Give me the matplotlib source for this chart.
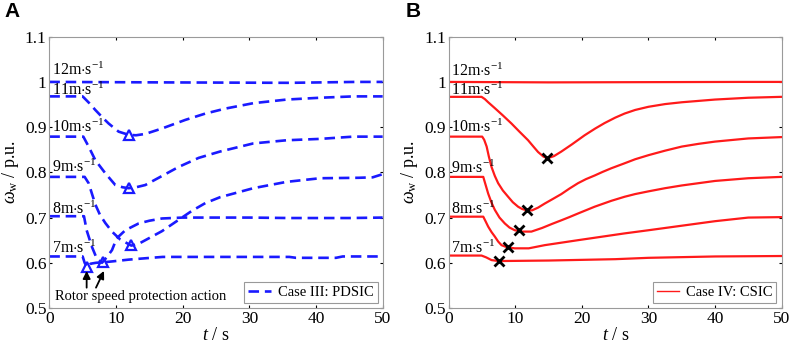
import matplotlib
matplotlib.use("Agg")
import matplotlib.pyplot as plt

plt.rcParams['font.family'] = ['Liberation Serif', 'DejaVu Serif']
plt.rcParams['mathtext.fontset'] = 'custom'
plt.rcParams['mathtext.rm'] = 'Liberation Serif'
plt.rcParams['mathtext.it'] = 'Liberation Serif:italic'

# ---------------- data: panel A (Case III: PDSIC) ----------------
a12_t = [0, 16, 36, 46, 50]
a12_y = [1.000, 0.999, 0.998, 1.000, 1.000]
a11_t = [0, 5.0, 6.0, 6.9, 8.0, 8.9, 10.4, 11.9, 13.0, 14.4, 16.9, 20.4, 23.4, 26.4, 30.6, 35.6, 40.6, 45.6, 50]
a11_y = [0.968, 0.968, 0.953, 0.938, 0.921, 0.908, 0.890, 0.883, 0.882, 0.885, 0.897, 0.916, 0.930, 0.941, 0.953, 0.961, 0.965, 0.968, 0.968]
a10_t = [0, 5.1, 5.9, 6.9, 8.4, 9.9, 11.0, 11.9, 13.0, 14.4, 16.9, 19.4, 22.4, 25.6, 30.6, 35.6, 40.6, 45.6, 50]
a10_y = [0.879, 0.879, 0.857, 0.827, 0.798, 0.772, 0.767, 0.765, 0.767, 0.772, 0.792, 0.812, 0.832, 0.846, 0.864, 0.871, 0.874, 0.879, 0.879]
a9_t = [0, 5.3, 5.9, 6.9, 7.6, 8.4, 9.4, 10.6, 12.3, 13.4, 14.4, 16.9, 19.4, 21.4, 23.4, 25.6, 30.6, 35.6, 40.6, 46.4, 48.5, 50]
a9_y = [0.790, 0.790, 0.776, 0.729, 0.706, 0.688, 0.669, 0.652, 0.638, 0.642, 0.650, 0.670, 0.695, 0.715, 0.732, 0.745, 0.765, 0.779, 0.787, 0.788, 0.789, 0.796]
a8_t = [0, 5.2, 5.6, 6.4, 7.1, 7.9, 8.6, 9.4, 10.1, 11.4, 13.4, 15.0, 16.9, 20.0, 30.0, 36.0, 45.0, 50]
a8_y = [0.703, 0.703, 0.672, 0.635, 0.610, 0.600, 0.612, 0.628, 0.654, 0.672, 0.687, 0.693, 0.698, 0.700, 0.700, 0.699, 0.699, 0.700]
a7_t = [0, 5.0, 5.3, 5.7, 6.2, 7.0, 8.0, 9.4, 11.9, 14.4, 17.0, 36.0, 37.0, 43.0, 44.0, 50]
a7_y = [0.614, 0.614, 0.600, 0.590, 0.598, 0.600, 0.601, 0.603, 0.607, 0.610, 0.613, 0.613, 0.611, 0.611, 0.614, 0.614]
a_mark_t = [11.9, 11.9, 12.3, 5.7, 8.0]
a_mark_y = [0.883, 0.765, 0.640, 0.590, 0.601]

# ---------------- data: panel B (Case IV: CSIC) ----------------
b12_t = [0, 15, 44, 50]
b12_y = [1.000, 0.999, 1.000, 1.000]
b11_t = [0, 4.9, 5.4, 5.9, 6.9, 8.1, 9.4, 10.6, 11.9, 12.7, 13.4, 14.2, 14.8, 15.8, 16.9, 18.5, 20.4, 22.0, 23.4, 25.0, 26.4, 28.0, 30, 32.5, 35, 37.5, 40, 45, 50]
b11_y = [0.967, 0.967, 0.962, 0.955, 0.942, 0.926, 0.908, 0.890, 0.871, 0.857, 0.845, 0.835, 0.831, 0.836, 0.846, 0.862, 0.882, 0.897, 0.909, 0.921, 0.930, 0.938, 0.945, 0.951, 0.955, 0.958, 0.961, 0.965, 0.967]
b10_t = [0, 5.0, 5.3, 5.67, 6.0, 6.4, 6.9, 7.4, 8.1, 8.9, 9.6, 10.4, 11.0, 11.7, 12.5, 13.4, 14.4, 15.6, 16.9, 18.1, 19.4, 20.6, 21.9, 23.1, 24.4, 26.4, 28, 30, 32.5, 35, 37.5, 40, 45, 50]
b10_y = [0.879, 0.879, 0.872, 0.857, 0.835, 0.812, 0.792, 0.776, 0.760, 0.746, 0.734, 0.724, 0.719, 0.716, 0.716, 0.722, 0.731, 0.741, 0.752, 0.764, 0.776, 0.785, 0.793, 0.801, 0.809, 0.820, 0.829, 0.838, 0.848, 0.857, 0.863, 0.868, 0.875, 0.878]
b9_t = [0, 5.16, 5.5, 5.9, 6.4, 6.9, 7.6, 8.4, 9.1, 9.9, 11.0, 12.4, 14.0, 15.5, 16.9, 18.1, 19.4, 21.9, 24.4, 26.4, 28, 30, 32.5, 35, 37.5, 40, 45, 50]
b9_y = [0.790, 0.790, 0.773, 0.753, 0.733, 0.717, 0.700, 0.687, 0.678, 0.672, 0.669, 0.669, 0.677, 0.686, 0.694, 0.701, 0.709, 0.724, 0.737, 0.746, 0.752, 0.758, 0.765, 0.771, 0.776, 0.781, 0.787, 0.790]
b8_t = [0, 5.16, 5.5, 5.9, 6.4, 6.9, 7.4, 7.9, 8.8, 9.9, 12.0, 14.4, 19.4, 26.4, 30, 35, 40, 45, 50]
b8_y = [0.702, 0.702, 0.692, 0.680, 0.668, 0.658, 0.647, 0.639, 0.634, 0.632, 0.632, 0.639, 0.650, 0.665, 0.672, 0.682, 0.692, 0.700, 0.701]
b7_t = [0, 4.9, 5.6, 6.4, 7.4, 8.5, 15, 25, 30, 40, 50]
b7_y = [0.616, 0.616, 0.612, 0.606, 0.604, 0.604, 0.605, 0.608, 0.611, 0.614, 0.615]
b_mark_t = [14.8, 11.8, 10.6, 8.9, 7.5]
b_mark_y = [0.831, 0.716, 0.672, 0.635, 0.605]

speed_labels = ['12', '11', '10', '9', '8', '7']
label_y_a = [1.015, 0.972, 0.890, 0.800, 0.709, 0.621]
label_y_b = [1.013, 0.971, 0.890, 0.798, 0.709, 0.622]

x_ticks = [0, 10, 20, 30, 40, 50]
y_ticks = [0.5, 0.6, 0.7, 0.8, 0.9, 1.0, 1.1]
y_ticklabels = ['0.5', '0.6', '0.7', '0.8', '0.9', '1', '1.1']

fig = plt.figure(figsize=(7.89, 3.43), dpi=100)
axA = fig.add_axes([0.0625, 0.102, 0.4225, 0.791])
axB = fig.add_axes([0.569, 0.102, 0.4215, 0.791])

blue = '#1a1aff'
red = '#ff1a1a'

a_curves = [(a12_t, a12_y), (a11_t, a11_y), (a10_t, a10_y), (a9_t, a9_y), (a8_t, a8_y), (a7_t, a7_y)]
for i, (t, y) in enumerate(a_curves):
    axA.plot(t, y, color=blue, lw=1.9, ls=(0, (4, 2.2)),
             label='Case III: PDSIC' if i == 0 else None)
axA.plot(a_mark_t, a_mark_y, ls='none', marker='^', ms=7, mfc='none', mec=blue, mew=1.6)

b_curves = [(b12_t, b12_y), (b11_t, b11_y), (b10_t, b10_y), (b9_t, b9_y), (b8_t, b8_y), (b7_t, b7_y)]
for i, (t, y) in enumerate(b_curves):
    axB.plot(t, y, color=red, lw=1.6, label='Case IV: CSIC' if i == 0 else None)
axB.plot(b_mark_t, b_mark_y, ls='none', marker='x', ms=7, mec='black', mew=2)

for ax, ly in ((axA, label_y_a), (axB, label_y_b)):
    for s, yv in zip(speed_labels, ly):
        ax.text(0.35, yv, s + r'm$\cdot$s$^{-1}$', fontsize=11.5, va='baseline', ha='left')
    ax.set_xlim(0, 50)
    ax.set_ylim(0.5, 1.1)
    ax.set_xticks(x_ticks)
    ax.set_yticks(y_ticks)
    ax.set_yticklabels(y_ticklabels)
    ax.tick_params(direction='in', length=2.5, width=0.8, top=True, right=True,
                   labelsize=12.5, pad=2, colors='black')
    for sp in ax.spines.values():
        sp.set_color('#9a9a9a')
        sp.set_linewidth(0.8)
    ax.set_xlabel(r'$t$ / s', fontsize=13, labelpad=0.5)
    ax.set_ylabel(r'$\omega_{\mathrm{w}}$ / p.u.', fontsize=13, labelpad=3)

legA = axA.legend(loc='lower right', fontsize=10.5, frameon=True, fancybox=False,
                  edgecolor='#808080', handlelength=1.6, borderpad=0.25,
                  borderaxespad=0.35, handletextpad=0.5)
legA.get_frame().set_linewidth(0.8)
legB = axB.legend(loc='lower right', fontsize=10.5, frameon=True, fancybox=False,
                  edgecolor='#808080', handlelength=1.5, borderpad=0.25,
                  borderaxespad=0.35, handletextpad=0.5)
legB.get_frame().set_linewidth(0.8)
for l in legB.get_lines():
    l.set_linewidth(1.0)

axA.text(0.85, 0.518, 'Rotor speed protection action', fontsize=10.5, va='baseline', ha='left')
axA.annotate('', xy=(5.6, 0.582), xytext=(5.6, 0.545),
             arrowprops=dict(arrowstyle='-|>', color='black', lw=1.3, mutation_scale=11,
                             shrinkA=0, shrinkB=0))
axA.annotate('', xy=(8.2, 0.582), xytext=(7.0, 0.545),
             arrowprops=dict(arrowstyle='-|>', color='black', lw=1.3, mutation_scale=11,
                             shrinkA=0, shrinkB=0))

fig.text(0.006, 0.995, 'A', fontsize=15, fontweight='bold', family='Liberation Sans', va='top')
fig.text(0.514, 0.995, 'B', fontsize=15, fontweight='bold', family='Liberation Sans', va='top')

fig.savefig('out.png', dpi=100)
